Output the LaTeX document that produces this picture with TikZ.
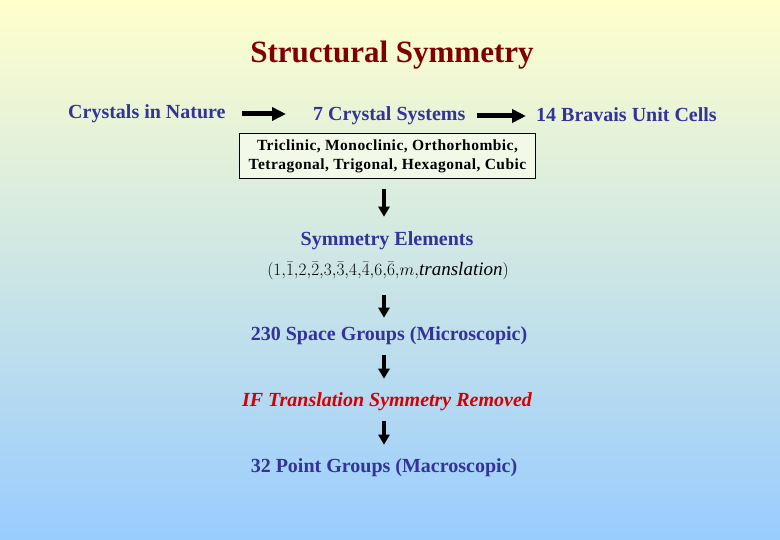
\documentclass[tikz,border=0pt]{standalone}
\usepackage{fontspec}
\setmainfont{Liberation Serif}
\usetikzlibrary{arrows.meta,positioning,calc}
\definecolor{bgtop}{RGB}{255,255,204}
\definecolor{bgbot}{RGB}{153,204,255}
\definecolor{titlered}{RGB}{128,0,0}
\definecolor{txtblue}{RGB}{51,51,153}
\definecolor{ifred}{RGB}{210,0,0}
\tikzset{
  bluetxt/.style={font=\fontsize{20}{24}\selectfont\bfseries, text=txtblue, inner sep=0pt},
  harrow/.style={line width=5pt, -{Triangle[length=14pt,width=13pt]}},
  varrow/.style={line width=4.5pt, -{Triangle[length=10pt,width=11pt]}, shorten <=10pt, shorten >=14pt},
}
\begin{document}
\begin{tikzpicture}[x=1pt,y=-1pt]

        \shade[top color=bgtop, bottom color=bgbot] (0,0) rectangle (780,540);
        \useasboundingbox (0,0) rectangle (780,540);

        \node [font=\fontsize{31}{36}\selectfont\bfseries, text=titlered] (title) at (392,55) {Structural Symmetry};

        %% first line
        \node [bluetxt, anchor=west] (nature) at (68,114) {Crystals in Nature};
        \node [bluetxt, anchor=west] (systems) at (313,116) {7 Crystal Systems};
        \node [bluetxt, anchor=west] (bravais) at (536,115) {14 Bravais Unit Cells};
        \draw[harrow, shorten <=16pt, shorten >=27pt] (nature.east) -- (nature.east -| systems.west);
        \draw[harrow, shorten <=11pt, shorten >=10pt] (systems.east) -- (systems.east -| bravais.west);

        %% list of systems
        \node [draw, fill=bgtop!80!bgbot!60!white, line width=.8pt, align=center, inner xsep=9pt, inner ysep=6pt,
               font=\fontsize{15.5}{19}\selectfont\bfseries\addfontfeatures{LetterSpace=3}] (list) at (387.5,156)
              {Triclinic, Monoclinic, Orthorhombic,\\Tetragonal, Trigonal, Hexagonal, Cubic};

        \node [bluetxt] (elements) at (387,241) {Symmetry Elements};
        \node [font=\fontsize{19}{23}\selectfont, inner sep=1pt] (ops) at (388,271)
              {$\bigl(1{,}\bar{1}{,}2{,}\bar{2}{,}3{,}\bar{3}{,}4{,}\bar{4}{,}6{,}\bar{6}{,}m{,}\mathit{translation}\bigr)$};
        \node [bluetxt] (space) at (389,336) {230 Space Groups (Microscopic)};
        \node [font=\fontsize{20}{24}\selectfont\bfseries\itshape, text=ifred, inner sep=0pt] (remove) at (387,402)
              {IF Translation Symmetry Removed};
        \node [bluetxt] (point) at (384,468) {32 Point Groups (Macroscopic)};

        %% downward arrows
        \draw[varrow, shorten >=15pt] (list.south -| 384,0) -- (elements.north -| 384,0);
        \draw[varrow, shorten <=14pt, shorten >=9pt] (ops.south -| 384,0) -- (space.north -| 384,0);
        \draw[varrow] (space.south -| 384,0) -- (remove.north -| 384,0);
        \draw[varrow] (remove.south -| 384,0) -- (point.north -| 384,0);

\end{tikzpicture}
\end{document}
